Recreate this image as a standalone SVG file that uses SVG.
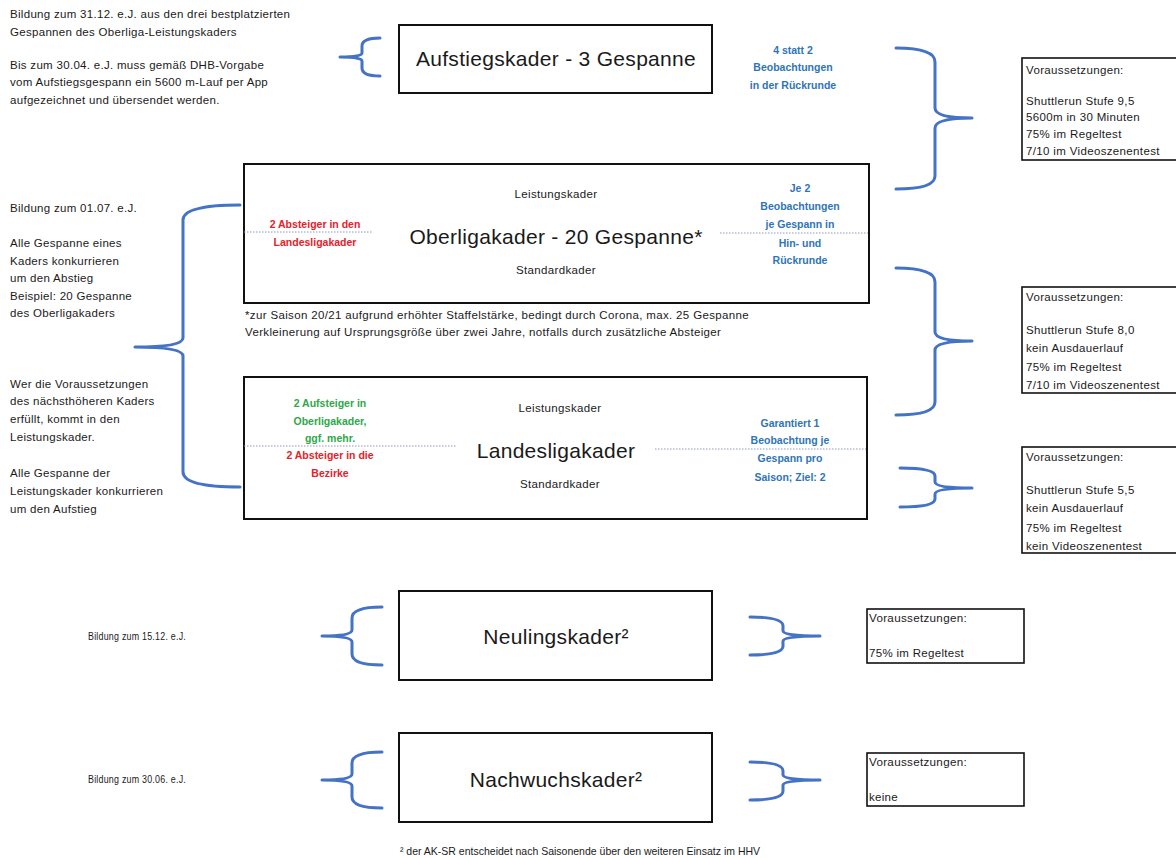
<svg xmlns="http://www.w3.org/2000/svg" width="1176" height="858" viewBox="0 0 1176 858">
<style>
text{font-family:"Liberation Sans",Arial,sans-serif;fill:#1a1a1a;dominant-baseline:central}
.s{font-size:11.5px;letter-spacing:0.3px}
.m{font-size:11.5px;letter-spacing:0.35px}
.h{font-size:21px;letter-spacing:0.3px}
.c{text-anchor:middle}
.b{font-weight:bold;font-size:10.5px;text-anchor:middle}
.blue{fill:#2E75B6}
.red{fill:#E8202A}
.green{fill:#2EA84A}
.box{fill:#fff;stroke:#111;stroke-width:2}
.req{fill:#fff;stroke:#111;stroke-width:1.6}
.br{fill:none;stroke:#4472C4;stroke-width:3;stroke-linecap:round;stroke-linejoin:round}
.dot{stroke:#8c96c0;stroke-width:1;stroke-dasharray:1.5 1.5}
</style>
<rect width="1176" height="858" fill="#fff"/>

<g id="notes-left">
<text class="s" x="10" y="14">Bildung zum 31.12. e.J. aus den drei bestplatzierten</text>
<text class="s" x="10" y="32">Gespannen des Oberliga-Leistungskaders</text>
<text class="s" x="10" y="65">Bis zum 30.04. e.J. muss gemäß DHB-Vorgabe</text>
<text class="s" x="10" y="82">vom Aufstiegsgespann ein 5600 m-Lauf per App</text>
<text class="s" x="10" y="100">aufgezeichnet und übersendet werden.</text>

<text class="s" x="10" y="208">Bildung zum 01.07. e.J.</text>
<text class="s" x="10" y="243">Alle Gespanne eines</text>
<text class="s" x="10" y="261">Kaders konkurrieren</text>
<text class="s" x="10" y="278">um den Abstieg</text>
<text class="s" x="10" y="296">Beispiel: 20 Gespanne</text>
<text class="s" x="10" y="313">des Oberligakaders</text>
<text class="s" x="10" y="384">Wer die Voraussetzungen</text>
<text class="s" x="10" y="401">des nächsthöheren Kaders</text>
<text class="s" x="10" y="419">erfüllt, kommt in den</text>
<text class="s" x="10" y="437">Leistungskader.</text>
<text class="s" x="10" y="473">Alle Gespanne der</text>
<text class="s" x="10" y="491">Leistungskader konkurrieren</text>
<text class="s" x="10" y="509">um den Aufstieg</text>

<text class="s" x="88" y="636" textLength="98" lengthAdjust="spacingAndGlyphs">Bildung zum 15.12. e.J.</text>
<text class="s" x="88" y="779" textLength="98" lengthAdjust="spacingAndGlyphs">Bildung zum 30.06. e.J.</text>
</g>

<g id="connectors">
<path class="br" d="M380,38 Q362,38 362,46 L362,53 Q362,57 340,57 Q362,57 362,61 L362,68 Q362,76 380,76"/>
<path class="br" d="M240,205 Q183,205 183,220 L183,338 Q183,347 135,347 Q183,347 183,356 L183,472 Q183,487 240,487"/>
<path class="br" d="M382,607 Q352,607 352,618 L352,630 Q352,636 322,636 Q352,636 352,642 L352,654 Q352,665 382,665"/>
<path class="br" d="M382,752 Q352,752 352,763 L352,774 Q352,780 322,780 Q352,780 352,786 L352,797 Q352,808 382,808"/>
<path class="br" d="M896,48 Q935,48 935,62 L935,108 Q935,118 972,118 Q935,118 935,128 L935,176 Q935,189 896,189"/>
<path class="br" d="M896,268 Q935,268 935,282 L935,332 Q935,341 972,341 Q935,341 935,350 L935,402 Q935,415 896,415"/>
<path class="br" d="M900,468 Q935,468 935,476 L935,482 Q935,488 972,488 Q935,488 935,494 L935,499 Q935,507 900,507"/>
<path class="br" d="M750,617 Q783,617 783,626 L783,631 Q783,636 820,636 Q783,636 783,641 L783,646 Q783,655 750,655"/>
<path class="br" d="M750,762 Q783,762 783,771 L783,775 Q783,780 820,780 Q783,780 783,785 L783,791 Q783,800 750,800"/>
</g>

<g id="aufstiegskader">
<rect class="box" x="399" y="25" width="313" height="68"/>
<text class="h c" x="556" y="58">Aufstiegskader - 3 Gespanne</text>
<text class="b blue" x="793" y="50">4 statt 2</text>
<text class="b blue" x="793" y="67">Beobachtungen</text>
<text class="b blue" x="793" y="85">in der Rückrunde</text>
</g>

<g id="oberligakader">
<rect class="box" x="244" y="164" width="625" height="139"/>
<line class="dot" x1="244" y1="232" x2="372" y2="232"/>
<line class="dot" x1="720" y1="233" x2="868" y2="233"/>
<text class="m c" x="556" y="194">Leistungskader</text>
<text class="h c" x="556" y="236">Oberligakader - 20 Gespanne*</text>
<text class="m c" x="556" y="270">Standardkader</text>
<text class="b red" x="315" y="224">2 Absteiger in den</text>
<text class="b red" x="315" y="242">Landesligakader</text>
<text class="b blue" x="800" y="188">Je 2</text>
<text class="b blue" x="800" y="206">Beobachtungen</text>
<text class="b blue" x="800" y="224">je Gespann in</text>
<text class="b blue" x="800" y="243">Hin- und</text>
<text class="b blue" x="800" y="260">Rückrunde</text>
<text class="m" x="245" y="315">*zur Saison 20/21 aufgrund erhöhter Staffelstärke, bedingt durch Corona, max. 25 Gespanne</text>
<text class="m" x="245" y="332">Verkleinerung auf Ursprungsgröße über zwei Jahre, notfalls durch zusätzliche Absteiger</text>
</g>

<g id="landesligakader">
<rect class="box" x="244" y="377" width="623" height="142"/>
<line class="dot" x1="244" y1="446" x2="457" y2="446"/>
<line class="dot" x1="655" y1="449" x2="866" y2="449"/>
<text class="m c" x="560" y="408">Leistungskader</text>
<text class="h c" x="556" y="450">Landesligakader</text>
<text class="m c" x="560" y="484">Standardkader</text>
<text class="b green" x="330" y="403">2 Aufsteiger in</text>
<text class="b green" x="330" y="421">Oberligakader,</text>
<text class="b green" x="330" y="438">ggf. mehr.</text>
<text class="b red" x="330" y="455">2 Absteiger in die</text>
<text class="b red" x="330" y="473">Bezirke</text>
<text class="b blue" x="790" y="423">Garantiert 1</text>
<text class="b blue" x="790" y="440">Beobachtung je</text>
<text class="b blue" x="790" y="458">Gespann pro</text>
<text class="b blue" x="790" y="477">Saison; Ziel: 2</text>
</g>

<g id="neulingskader">
<rect class="box" x="399" y="591" width="313" height="89"/>
<text class="h c" x="556" y="636">Neulingskader²</text>
</g>

<g id="nachwuchskader">
<rect class="box" x="399" y="733" width="313" height="89"/>
<text class="h c" x="556" y="779">Nachwuchskader²</text>
<text class="c" style="font-size:10.5px" x="580" y="851">² der AK-SR entscheidet nach Saisonende über den weiteren Einsatz im HHV</text>
</g>

<g id="req-aufstieg">
<rect class="req" x="1022" y="58" width="160" height="102"/>
<text class="m" x="1026" y="70">Voraussetzungen:</text>
<text class="m" x="1026" y="101">Shuttlerun Stufe 9,5</text>
<text class="m" x="1026" y="117">5600m in 30 Minuten</text>
<text class="m" x="1026" y="134">75% im Regeltest</text>
<text class="m" x="1026" y="151">7/10 im Videoszenentest</text>
</g>

<g id="req-oberliga">
<rect class="req" x="1022" y="287" width="160" height="106"/>
<text class="m" x="1026" y="297">Voraussetzungen:</text>
<text class="m" x="1026" y="330">Shuttlerun Stufe 8,0</text>
<text class="m" x="1026" y="348">kein Ausdauerlauf</text>
<text class="m" x="1026" y="367">75% im Regeltest</text>
<text class="m" x="1026" y="385">7/10 im Videoszenentest</text>
</g>

<g id="req-landesliga">
<rect class="req" x="1022" y="447" width="160" height="106"/>
<text class="m" x="1026" y="457">Voraussetzungen:</text>
<text class="m" x="1026" y="490">Shuttlerun Stufe 5,5</text>
<text class="m" x="1026" y="508">kein Ausdauerlauf</text>
<text class="m" x="1026" y="528">75% im Regeltest</text>
<text class="m" x="1026" y="546">kein Videoszenentest</text>
</g>

<g id="req-neulinge">
<rect class="req" x="867" y="609" width="157" height="54"/>
<text class="s" x="869" y="618" textLength="98" lengthAdjust="spacingAndGlyphs">Voraussetzungen:</text>
<text class="s" x="869" y="653" textLength="95" lengthAdjust="spacingAndGlyphs">75% im Regeltest</text>
</g>

<g id="req-nachwuchs">
<rect class="req" x="867" y="753" width="157" height="53"/>
<text class="s" x="869" y="762" textLength="98" lengthAdjust="spacingAndGlyphs">Voraussetzungen:</text>
<text class="s" x="869" y="797">keine</text>
</g>
</svg>
